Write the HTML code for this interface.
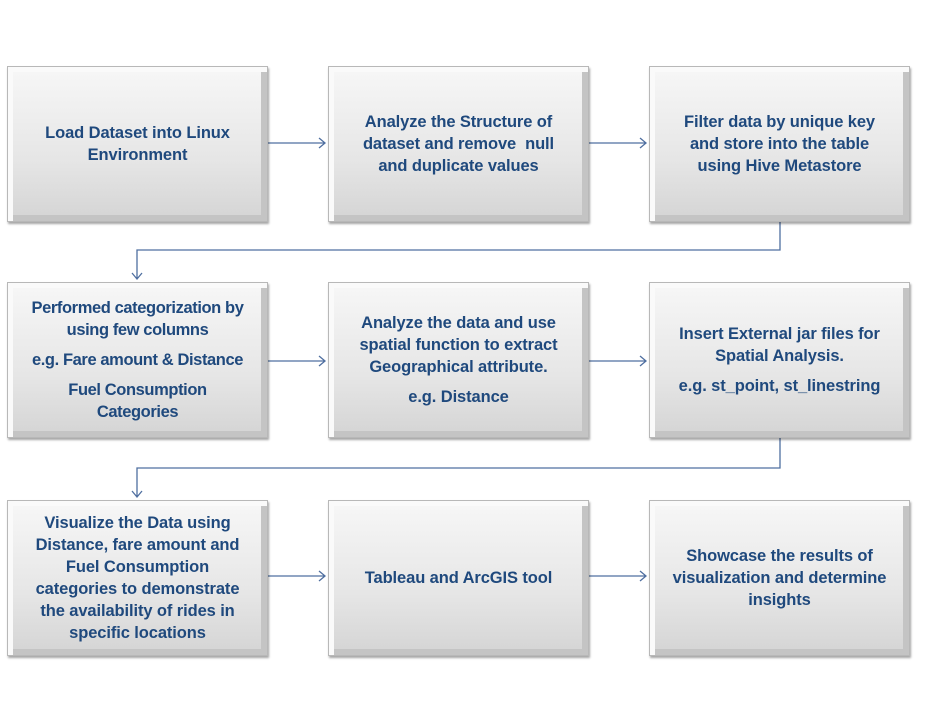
<!DOCTYPE html>
<html><head><style>
body{margin:0;background:#fff;width:951px;height:701px;position:relative;overflow:hidden;font-family:"Liberation Sans",sans-serif}
.b{position:absolute;width:261px;height:156px;box-sizing:border-box;border:1px solid #b8b8b8;
background:linear-gradient(#f7f7f7,#e6e6e6 60%,#d4d4d4);
box-shadow:inset 6px 6px 0 -1px #fafafa,inset -7px -7px 0 -1px #c4c4c4,1px 2px 2px rgba(0,0,0,.35);
display:flex;flex-direction:column;align-items:center;justify-content:center;text-align:center;
color:#1f497d;font-weight:bold;font-size:16.5px;line-height:22px;letter-spacing:-0.1px;white-space:nowrap}
.b p{margin:0}
.g{margin-top:8px!important}
</style></head><body>
<svg width="951" height="701" style="position:absolute;left:0;top:0">
<g stroke="#4f6fa0" stroke-width="1.3" fill="none">
<path d="M268 143H325M319 138l6 5-6 5"/>
<path d="M589 143H646M640 138l6 5-6 5"/>
<path d="M780 222V250H137V279M132 273l5 6 5-6"/>
<path d="M268 361H325M319 356l6 5-6 5"/>
<path d="M589 361H646M640 356l6 5-6 5"/>
<path d="M780 438V468H137V497M132 491l5 6 5-6"/>
<path d="M268 576H325M319 571l6 5-6 5"/>
<path d="M589 576H646M640 571l6 5-6 5"/>
</g></svg>
<div class="b" style="left:7px;top:66px"><p>Load Dataset into Linux<br>Environment</p></div>
<div class="b" style="left:328px;top:66px"><p>Analyze the Structure of<br>dataset and remove&nbsp; null<br>and duplicate values</p></div>
<div class="b" style="left:649px;top:66px"><p>Filter data by unique key<br>and store into the table<br>using Hive Metastore</p></div>
<div class="b" style="left:7px;top:282px;letter-spacing:-0.4px"><p>Performed categorization by<br>using few columns</p><p class="g">e.g. Fare amount &amp; Distance</p><p class="g">Fuel Consumption<br>Categories</p></div>
<div class="b" style="left:328px;top:282px"><p>Analyze the data and use<br>spatial function to extract<br>Geographical attribute.</p><p class="g">e.g. Distance</p></div>
<div class="b" style="left:649px;top:282px"><p>Insert External jar files for<br>Spatial Analysis.</p><p class="g">e.g. st_point, st_linestring</p></div>
<div class="b" style="left:7px;top:500px"><p>Visualize the Data using<br>Distance, fare amount and<br>Fuel Consumption<br>categories to demonstrate<br>the availability of rides in<br>specific locations</p></div>
<div class="b" style="left:328px;top:500px"><p>Tableau and ArcGIS tool</p></div>
<div class="b" style="left:649px;top:500px"><p>Showcase the results of<br>visualization and determine<br>insights</p></div>
</body></html>
